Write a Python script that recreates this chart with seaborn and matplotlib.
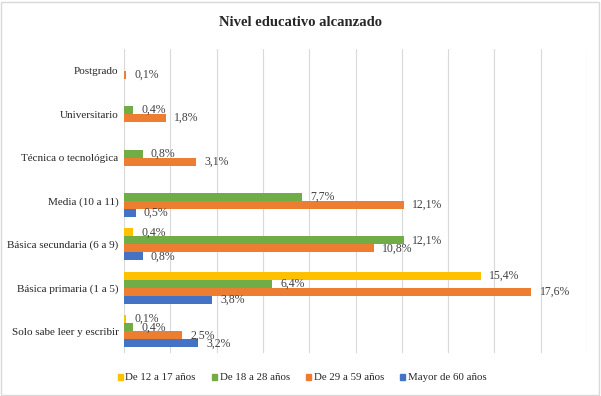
import seaborn as sns
import matplotlib.pyplot as plt
import matplotlib.patches as mpatches
import pandas as pd
import numpy as np

# Data (percent)
categories = ['Postgrado', 'Universitario', 'Técnica o tecnológica', 'Media (10 a 11)',
              'Básica secundaria (6 a 9)', 'Básica primaria (1 a 5)', 'Solo sabe leer y escribir']
series = ['De 12 a 17 años', 'De 18 a 28 años', 'De 29 a 59 años', 'Mayor de 60 años']
v_12_17 = [np.nan, np.nan, np.nan, np.nan, 0.4, 15.4, 0.1]
v_18_28 = [np.nan, 0.4, 0.8, 7.7, 12.1, 6.4, 0.4]
v_29_59 = [0.1, 1.8, 3.1, 12.1, 10.8, 17.6, 2.5]
v_60 = [np.nan, np.nan, np.nan, 0.5, 0.8, 3.8, 3.2]
colors = ['#FFC000', '#70AD47', '#ED7D31', '#4472C4']

rows = []
for name, vals in zip(series, [v_12_17, v_18_28, v_29_59, v_60]):
    for cat, v in zip(categories, vals):
        rows.append({'Nivel': cat, 'Grupo': name, 'Valor': v})
df = pd.DataFrame(rows)

sns.set_style('white')
plt.rcParams['font.family'] = ['Liberation Serif', 'DejaVu Serif']

fig = plt.figure(figsize=(6.01, 3.96), dpi=100)
ax = fig.add_axes([124 / 601, 1 - 353 / 396, (587 - 124) / 601, (353 - 49) / 396])

sns.barplot(data=df, y='Nivel', x='Valor', hue='Grupo', order=categories,
            hue_order=series, palette=colors, orient='h', width=0.74,
            saturation=1, linewidth=0, errorbar=None, ax=ax, legend=False)

ax.set_xlim(0, 20)
ax.set_xticks(np.arange(0, 21, 2))
ax.set_xticklabels([])
ax.tick_params(axis='x', length=0)
ax.tick_params(axis='y', length=0, labelsize=8, pad=4)
ax.grid(axis='x', color='#D9D9D9', linewidth=0.8)
ax.set_axisbelow(True)
for s in ax.spines.values():
    s.set_visible(False)
ax.set_xlabel('')
ax.set_ylabel('')

# data labels like "12,1%" (labels overlap a little, as in the original)
fmt = lambda v: f'{v:.1f}%'.replace('.', ',')
for cont in ax.containers:
    ax.bar_label(cont, fmt=fmt, padding=6, fontsize=8.5, color='#404040')

fig.suptitle('Nivel educativo alcanzado', y=1 - 22 / 396, fontsize=10.5,
             fontweight='bold', va='center')

handles = [mpatches.Patch(color=c, label=s) for c, s in zip(colors, series)]
fig.legend(handles=handles, loc='center', bbox_to_anchor=(302 / 601, 1 - 378 / 396), ncol=4,
           frameon=False, fontsize=7.8, handlelength=0.5, handleheight=0.5,
           handletextpad=0.2, columnspacing=1.5)

fig.patches.append(mpatches.Rectangle((0.002, 0.003), 0.995, 0.993, transform=fig.transFigure,
                                      fill=False, edgecolor='#D9D9D9', linewidth=1))

fig.savefig('out.png', dpi=100)
